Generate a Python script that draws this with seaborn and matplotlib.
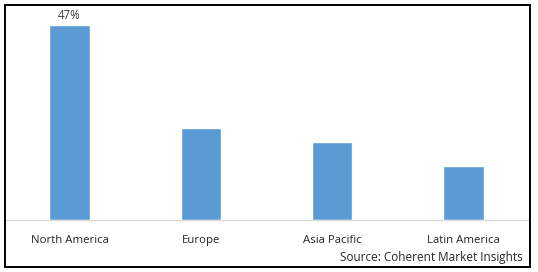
import matplotlib
matplotlib.use("Agg")
import matplotlib.pyplot as plt
import seaborn as sns
import pandas as pd
from matplotlib.patches import Rectangle

regions = ["North America", "Europe", "Asia Pacific", "Latin America"]
shares = [47, 22.2, 18.8, 13.0]
labels = ["47%", "", "", ""]
source = "Source: Coherent Market Insights"

sns.set_theme(style="white")
plt.rcParams['font.family'] = ['Open Sans', 'DejaVu Sans']

W, H = 538, 272
fig = plt.figure(figsize=(W / 100, H / 100), dpi=100)
ax = fig.add_axes([4 / W, 1 - 220 / H, 525 / W, (220 - 12.5) / H])

df = pd.DataFrame({"region": regions, "share": shares})
sns.barplot(data=df, x="region", y="share", color="#5b9bd5", width=0.31,
            saturation=1, ax=ax)
ax.set_xlim(-0.5, 3.5)
ax.set_ylim(0, 50)
for i, (v, t) in enumerate(zip(shares, labels)):
    if t:
        ax.text(i, v + 0.7, t, ha="center", va="bottom", fontsize=8.3, color="#404040")

for s in ["top", "right", "left"]:
    ax.spines[s].set_visible(False)
ax.spines["bottom"].set_color("#d9d9d9")
ax.spines["bottom"].set_linewidth(1)
ax.set_yticks([])
ax.set_xlabel("")
ax.set_ylabel("")
ax.tick_params(axis="x", length=0, pad=11, labelsize=8.2, labelcolor="#262626")

fig.text(523 / W, 1 - 258 / H, source, ha="right", va="center", fontsize=8.5, color="#262626")
fig.patches.append(Rectangle((4.5 / W, 5 / H), 525.5 / W, 262 / H, transform=fig.transFigure,
                             fill=False, edgecolor="black", linewidth=1.4))

fig.savefig("out.png", dpi=100, facecolor="white")
